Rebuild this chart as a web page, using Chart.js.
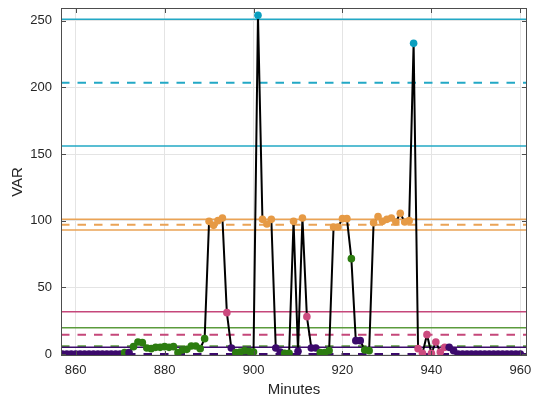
<!DOCTYPE html>
<html><head><meta charset="utf-8">
<script src="https://cdn.jsdelivr.net/npm/chart.js@4.4.0/dist/chart.umd.min.js"></script>
<style>html,body{margin:0;padding:0;background:#fff}canvas{display:block}</style>
</head><body>
<canvas id="c" width="534" height="400"></canvas>
<script>
// ---- data ----
const minutes = [857,858,859,860,861,862,863,864,865,866,867,868,869,870,
  871,872,873,874,875,876,877,878,879,880,881,882,883,884,885,886,887,888,889,
  890,891,892,893,894,895,896,897,898,899,900,901,902,903,904,905,906,907,908,909,
  910,911,912,913,914,915,916,917,918,919,920,921,922,923,924,925,926,927,928,929,
  930,931,932,933,934,935,936,937,938,939,940,941,942,943,944,945,
  946,947,948,949,950,951,952,953,954,955,956,957,958,959,960];
const values = [0,0,0,0,0,0,0,0,0,0,0,0,0,0,
  1,1,5.5,9,8.5,4.5,4,5,5,5.5,5,5.5,1,3,3.5,6,6,4,11.5,
  99.5,96.5,100,102,31,4.5,1,1.5,2.5,2,1.5,254,101,97.5,101,4.5,1.5,0.5,0.5,99.5,
  2,102,28,4.5,4.5,1,1,2.5,95.3,95.3,101.5,101.5,71.5,10,10,3,2.5,98.5,103,99.5,
  101,102,99,105.5,99,100,233,4,0.5,14.5,0.5,9,1.5,5,5,2.5,
  0,0,0,0,0,0,0,0,0,0,0,0,0,0,0];
// cluster of each point: 0 lowest ... 4 highest
const clusters = [0,0,0,0,0,0,0,0,0,0,0,0,0,0,
  1,0,1,1,1,1,1,1,1,1,1,1,1,1,1,1,1,1,1,
  3,3,3,3,2,0,1,1,1,1,1,4,3,3,3,0,0,1,1,3,
  0,3,2,0,0,1,1,1,3,3,3,3,1,0,0,1,1,3,3,3,
  3,3,3,3,3,3,4,2,2,2,2,2,2,2,0,0,
  0,0,0,0,0,0,0,0,0,0,0,0,0,0,0];
const meanLevels  = [0, 5.8, 14.5, 97, 203.5];
const upperLevels = [5, 19.7, 31.7, 101, 251];
const lowerLevels = [null, null, null, 93, 156];
const xTickValues = [860, 880, 900, 920, 940, 960];
const yTickValues = [0, 50, 100, 150, 200, 250];
const xLimits = [856.7, 961.5];
const yLimits = [-1.5, 259.5];

// ---- styles ----
const pointColors = ['#3c0a6c', '#2c7c10', '#cc4a7f', '#e69a45', '#0b9fbf'];
const levelColors = ['#3c0a6c', '#5b9b3c', '#c5477a', '#eaa356', '#22a8c5'];

const pts = minutes.map((m, i) => ({x: m, y: values[i]}));
const datasets = [{
  data: pts,
  showLine: true,
  borderColor: '#000',
  borderWidth: 2,
  pointRadius: 3.8,
  pointBorderWidth: 0,
  pointBackgroundColor: clusters.map(c => pointColors[c]),
  clip: 0,
  order: 0
}];
function hline(level, color, dashed) {
  return {
    data: [{x: xLimits[0], y: level}, {x: xLimits[1], y: level}],
    showLine: true, borderColor: color, borderWidth: dashed ? 2 : 1.5,
    borderDash: dashed ? [8.5, 8] : [], pointRadius: 0, clip: 0, order: 1
  };
}
for (let k = 0; k < meanLevels.length; k++) {
  datasets.push(hline(upperLevels[k], levelColors[k], false));
  if (lowerLevels[k] !== null) datasets.push(hline(lowerLevels[k], levelColors[k], false));
  datasets.push(hline(meanLevels[k], levelColors[k], true));
}

const boxPlugin = {
  id: 'box',
  afterDatasetsDraw(chart) {
    const {ctx, chartArea: a, scales: {x, y}} = chart;
    ctx.save();
    ctx.strokeStyle = '#4d4d4d';
    ctx.lineWidth = 1;
    ctx.strokeRect(a.left + 0.5, a.top + 0.5, a.right - a.left - 1, a.bottom - a.top - 1);
    const L = 5;
    ctx.beginPath();
    xTickValues.forEach(v => {
      const px = Math.round(x.getPixelForValue(v)) + 0.5;
      ctx.moveTo(px, a.bottom); ctx.lineTo(px, a.bottom - L);
      ctx.moveTo(px, a.top); ctx.lineTo(px, a.top + L);
    });
    yTickValues.forEach(v => {
      const py = Math.round(y.getPixelForValue(v)) + 0.5;
      ctx.moveTo(a.left, py); ctx.lineTo(a.left + L, py);
      ctx.moveTo(a.right, py); ctx.lineTo(a.right - L, py);
    });
    ctx.stroke();
    ctx.restore();
  }
};

const tickFont = {family: "'Liberation Sans', Arial, sans-serif", size: 13};
const titleFont = {family: "'Liberation Sans', Arial, sans-serif", size: 15};
function noPad(s) { s.paddingLeft = 0; s.paddingRight = 0; s.paddingTop = 0; s.paddingBottom = 0; }

new Chart(document.getElementById('c'), {
  type: 'scatter',
  data: {datasets},
  options: {
    responsive: false,
    animation: false,
    events: [],
    layout: {autoPadding: false, padding: {top: 8, right: 7, left: 0, bottom: 0}},
    plugins: {legend: {display: false}, tooltip: {enabled: false}},
    scales: {
      x: {
        type: 'linear', min: xLimits[0], max: xLimits[1],
        afterBuildTicks: s => { s.ticks = xTickValues.map(v => ({value: v})); },
        afterFit: s => { s.height = 44; noPad(s); },
        grid: {color: '#e4e4e4', lineWidth: 1, drawTicks: false},
        border: {display: false},
        ticks: {font: tickFont, color: '#262626', padding: 7, maxRotation: 0, autoSkip: false},
        title: {display: true, text: 'Minutes', font: titleFont, color: '#262626', padding: {top: 0, bottom: 1}}
      },
      y: {
        type: 'linear', min: yLimits[0], max: yLimits[1],
        afterBuildTicks: s => { s.ticks = yTickValues.map(v => ({value: v})); },
        afterFit: s => { s.width = 61; noPad(s); },
        grid: {color: '#e4e4e4', lineWidth: 1, drawTicks: false},
        border: {display: false},
        ticks: {font: tickFont, color: '#262626', padding: 9, autoSkip: false},
        title: {display: true, text: 'VAR', font: titleFont, color: '#262626', padding: {top: 9, bottom: 0}}
      }
    }
  },
  plugins: [boxPlugin]
});
</script>
</body></html>
